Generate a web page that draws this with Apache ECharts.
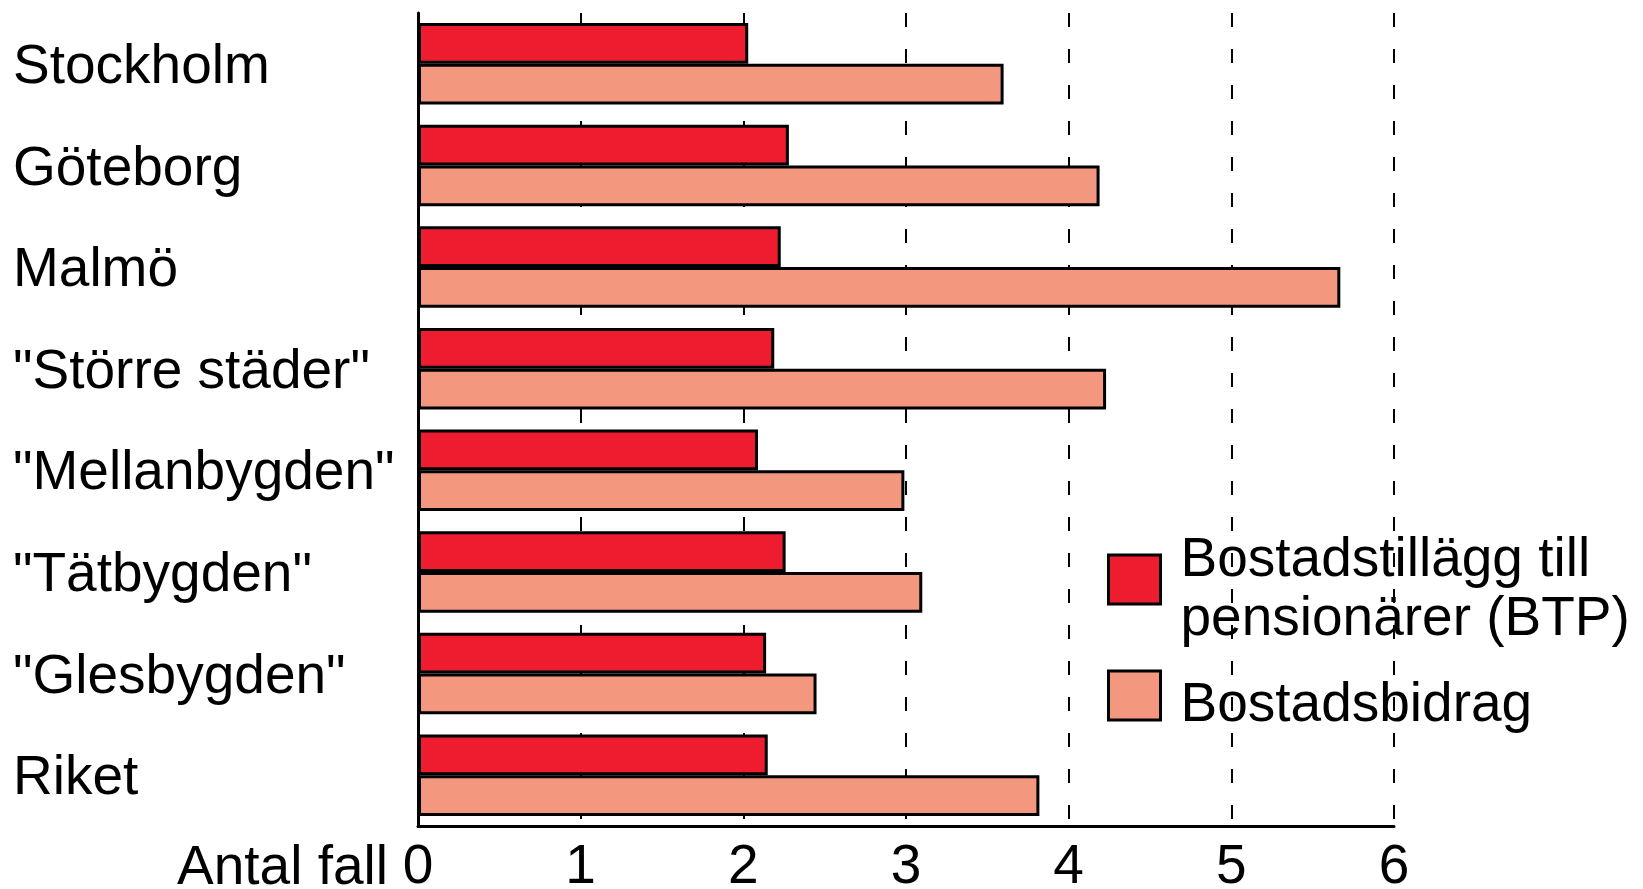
<!DOCTYPE html>
<html>
<head>
<meta charset="utf-8">
<script src="https://cdn.jsdelivr.net/npm/echarts@6/dist/echarts.min.js"></script>
<style>
html,body{margin:0;padding:0;background:#fff;}
#chart{width:1643px;height:889px;}
</style>
</head>
<body>
<div id="chart"></div>
<script>
const categories = ['Stockholm', 'Göteborg', 'Malmö', '"Större städer"', '"Mellanbygden"', '"Tätbygden"', '"Glesbygden"', 'Riket'];
const seriesNames = ['Bostadstillägg till pensionärer (BTP)', 'Bostadsbidrag'];
const legendLines = [['Bostadstillägg till', 'pensionärer (BTP)'], ['Bostadsbidrag']];
const btpValues = [2.03, 2.28, 2.23, 2.19, 2.09, 2.26, 2.14, 2.15];
const bidragValues = [3.60, 4.19, 5.67, 4.23, 2.99, 3.10, 2.45, 3.82];
const xAxisTitle = 'Antal fall';

const FONT = '"Liberation Sans", Arial, sans-serif';
const chart = echarts.init(document.getElementById('chart'), null, {renderer: 'canvas'});
chart.setOption({
  animation: false,
  backgroundColor: '#fff',
  grid: {left: 418, right: 249, top: 13, bottom: 63, containLabel: false, outerBoundsMode: 'none'},
  xAxis: {
    type: 'value', min: 0, max: 6, interval: 1,
    axisLine: {show: true, lineStyle: {color: '#000', width: 3}},
    axisTick: {show: false},
    axisLabel: {color: '#000', fontSize: 55, fontFamily: FONT, margin: 14},
    splitLine: {show: true, lineStyle: {color: '#000', width: 2, type: [14, 22]}}
  },
  yAxis: {
    type: 'category', data: categories, inverse: true,
    axisLine: {show: true, onZero: false, lineStyle: {color: '#000', width: 3}},
    axisTick: {show: false},
    axisLabel: {
      color: '#000', fontFamily: FONT, align: 'left', margin: 405,
      formatter: v => '{s| }\n{c|' + v + '}',
      rich: {s: {fontSize: 1, lineHeight: 8}, c: {fontSize: 55, lineHeight: 55, fontFamily: FONT, color: '#000'}}
    }
  },
  legend: {
    orient: 'vertical', left: 1102, top: 515, padding: 5, itemGap: 18,
    itemWidth: 52, itemHeight: 49, icon: 'rect',
    itemStyle: {borderColor: '#000', borderWidth: 3},
    formatter: name => {
      const i = seriesNames.indexOf(name);
      const sp = i === 0 ? '{s1| }' : '{s2| }';
      return sp + '\n' + legendLines[i].map(l => '{t|' + l + '}').join('\n');
    },
    textStyle: {
      color: '#000', fontFamily: FONT, padding: [0, 0, 0, 15],
      rich: {
        s1: {fontSize: 1, lineHeight: 22},
        s2: {fontSize: 1, lineHeight: 20},
        t: {fontSize: 55, lineHeight: 59, fontFamily: FONT, color: '#000'}
      }
    },
    data: seriesNames
  },
  graphic: [{
    type: 'text', x: 388, y: 869,
    style: {text: xAxisTitle, fill: '#000', font: '55px ' + FONT, textAlign: 'right', textVerticalAlign: 'middle'}
  }],
  series: [
    {name: seriesNames[0], type: 'bar', data: btpValues, barGap: '0%', barCategoryGap: '19.7%',
     itemStyle: {color: '#ED1C2E', borderColor: '#000', borderWidth: 3}},
    {name: seriesNames[1], type: 'bar', data: bidragValues, barGap: '0%', barCategoryGap: '19.7%',
     itemStyle: {color: '#F4977F', borderColor: '#000', borderWidth: 3}}
  ]
});
</script>
</body>
</html>
